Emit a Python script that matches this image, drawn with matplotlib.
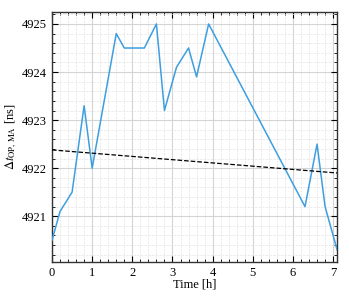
import numpy as np
import matplotlib
matplotlib.use("Agg")
import matplotlib.pyplot as plt
from matplotlib.ticker import MultipleLocator

plt.rcParams['font.family'] = ['Liberation Serif', 'DejaVu Serif']
plt.rcParams['mathtext.fontset'] = 'stix'

# 测量数据
time_h = [0.0, 0.2, 0.5, 0.8, 1.0, 1.6, 1.8, 2.3, 2.6, 2.8, 3.1, 3.4, 3.6, 3.9,
          6.3, 6.6, 6.8, 7.1]
delta_t = [4920.5, 4921.1, 4921.5, 4923.3, 4922.0, 4924.8, 4924.5, 4924.5, 4925.0,
           4923.2, 4924.1, 4924.5, 4923.9, 4925.0, 4921.2, 4922.5, 4921.2, 4920.3]

# 线性拟合端点
fit_x = [0.0, 7.1]
fit_y = [4922.38, 4921.9]

fig, ax = plt.subplots(figsize=(3.49, 2.99), dpi=100)
fig.subplots_adjust(left=0.149, right=0.966, top=0.96, bottom=0.124)

ax.plot(time_h, delta_t, color='#3d9ee0', linewidth=1.1, zorder=3)
ax.plot(fit_x, fit_y, color='black', linestyle='--', linewidth=0.9, zorder=4)

ax.set_xlim(0, 7.1)
ax.set_ylim(4920.05, 4925.25)
ax.xaxis.set_major_locator(MultipleLocator(1))
ax.xaxis.set_minor_locator(MultipleLocator(0.2))
ax.yaxis.set_major_locator(MultipleLocator(1))
ax.yaxis.set_minor_locator(MultipleLocator(0.2))

ax.grid(True, which='major', color='#d4d4d4', linewidth=0.8)
ax.grid(True, which='minor', color='#e4e4e4', linestyle='--', linewidth=0.5)
ax.set_axisbelow(True)

ax.tick_params(which='both', direction='in', top=True, right=True, labelsize=9)
ax.tick_params(which='major', length=4)
ax.tick_params(which='minor', length=2)
for s in ax.spines.values():
    s.set_color('#333333')
    s.set_linewidth(1.0)

ax.set_xlabel('Time [h]', fontsize=9, labelpad=0)
ax.set_ylabel(r'$\Delta t_{\mathrm{OP,\,MA}}$ [ns]', fontsize=9, labelpad=2)

plt.savefig('out.png', dpi=100)
